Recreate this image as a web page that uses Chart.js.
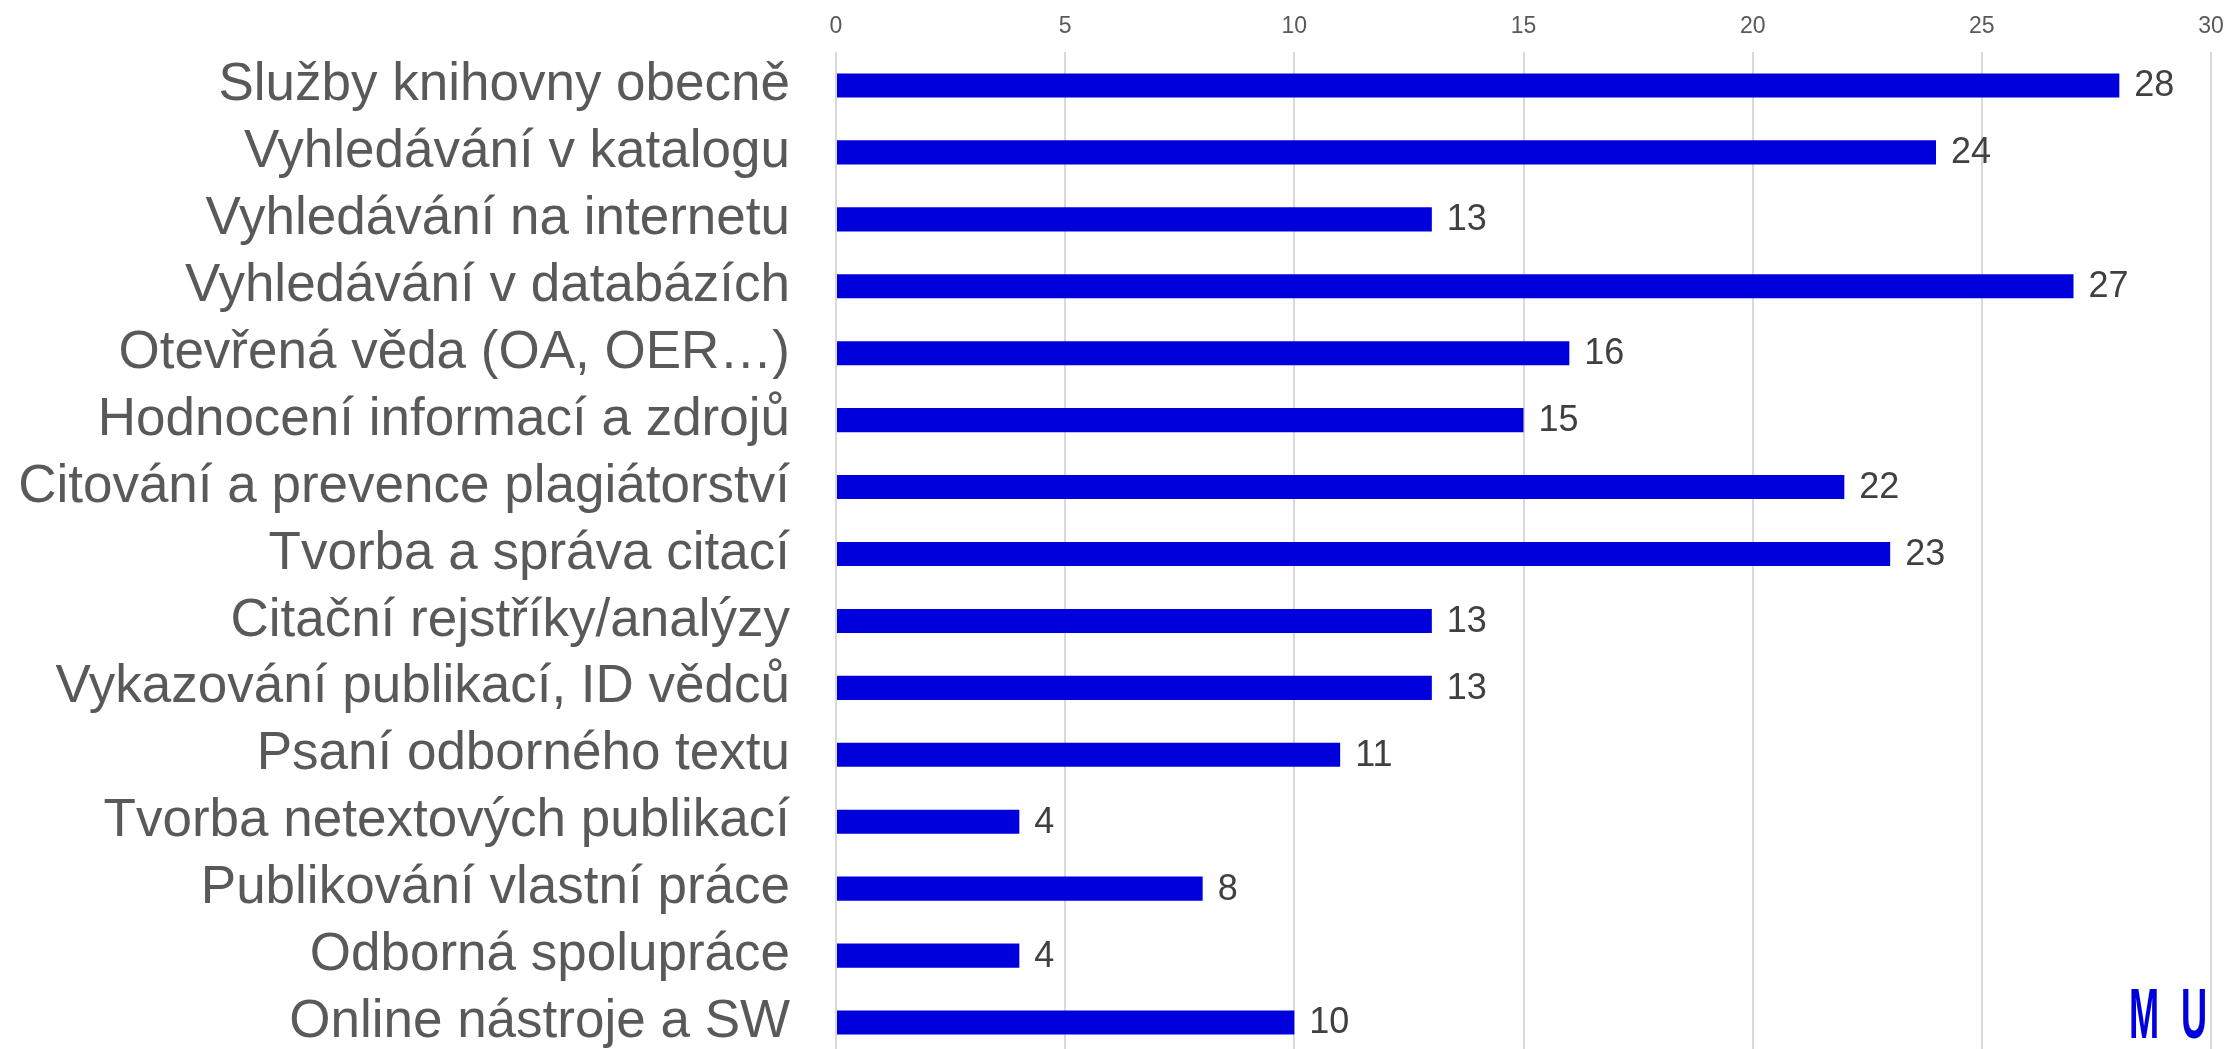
<!DOCTYPE html>
<html>
<head>
<meta charset="utf-8">
<script src="https://cdn.jsdelivr.net/npm/chart.js@4/dist/chart.umd.min.js"></script>
<style>
  html, body { margin: 0; padding: 0; background: #ffffff; overflow: hidden; }
  canvas { display: block; }
</style>
</head>
<body>
<canvas id="c" width="2229" height="1056" style="width:2229px;height:1056px"></canvas>
<script>
const categories = [
  "Služby knihovny obecně",
  "Vyhledávání v katalogu",
  "Vyhledávání na internetu",
  "Vyhledávání v databázích",
  "Otevřená věda (OA, OER…)",
  "Hodnocení informací a zdrojů",
  "Citování a prevence plagiátorství",
  "Tvorba a správa citací",
  "Citační rejstříky/analýzy",
  "Vykazování publikací, ID vědců",
  "Psaní odborného textu",
  "Tvorba netextových publikací",
  "Publikování vlastní práce",
  "Odborná spolupráce",
  "Online nástroje a SW"
];
const counts = [28, 24, 13, 27, 16, 15, 22, 23, 13, 13, 11, 4, 8, 4, 10];
const axisMin = 0;
const axisMax = 30;
const axisStep = 5;

const FONT = "'Liberation Sans', Arial, sans-serif";

const valueLabels = {
  id: 'valueLabels',
  afterDatasetsDraw(chart) {
    const ctx = chart.ctx;
    const meta = chart.getDatasetMeta(0);
    ctx.save();
    ctx.font = "36px " + FONT;
    ctx.fillStyle = "#404040";
    ctx.textAlign = "left";
    ctx.textBaseline = "middle";
    meta.data.forEach((bar, i) => {
      ctx.fillText(String(counts[i]), bar.x + 15, bar.y + 1);
    });
    ctx.restore();
  }
};

const logo = {
  id: 'logo',
  afterDraw(chart) {
    const ctx = chart.ctx;
    ctx.save();
    ctx.fillStyle = "#0000dc";
    ctx.font = "bold 71px " + FONT;
    ctx.textBaseline = "alphabetic";
    ctx.textAlign = "left";
    ctx.translate(2129, 1038);
    ctx.scale(0.51, 1);
    ctx.fillText("M", 0, 0);
    ctx.fillText("U", (2181 - 2129) / 0.51, 0);
    ctx.restore();
  }
};

new Chart(document.getElementById('c'), {
  type: 'bar',
  data: {
    labels: categories,
    datasets: [{
      data: counts,
      backgroundColor: '#0000dc',
      borderWidth: 0,
      barPercentage: 0.36,
      categoryPercentage: 1.0
    }]
  },
  options: {
    indexAxis: 'y',
    responsive: false,
    maintainAspectRatio: false,
    devicePixelRatio: 1,
    animation: false,
    layout: { padding: { left: 0, right: 18, top: 0, bottom: 0 } },
    plugins: {
      legend: { display: false },
      tooltip: { enabled: false }
    },
    scales: {
      x: {
        position: 'top',
        min: axisMin,
        max: axisMax,
        ticks: {
          stepSize: axisStep,
          color: '#595959',
          font: { family: FONT, size: 23 },
          padding: 12
        },
        grid: {
          color: '#d9d9d9',
          lineWidth: 2,
          drawTicks: false
        },
        border: { display: false },
        afterFit(scale) {
          scale.height = 52;
          scale.paddingLeft = 0;
          scale.paddingRight = 0;
        }
      },
      y: {
        ticks: {
          color: '#595959',
          font: { family: FONT, size: 53 },
          padding: 46,
          autoSkip: false
        },
        grid: { display: false, drawTicks: false },
        border: { display: false },
        afterFit(scale) {
          scale.width = 836;
          scale.paddingTop = 0;
          scale.paddingBottom = 0;
        }
      }
    }
  },
  plugins: [valueLabels, logo]
});
</script>
</body>
</html>
